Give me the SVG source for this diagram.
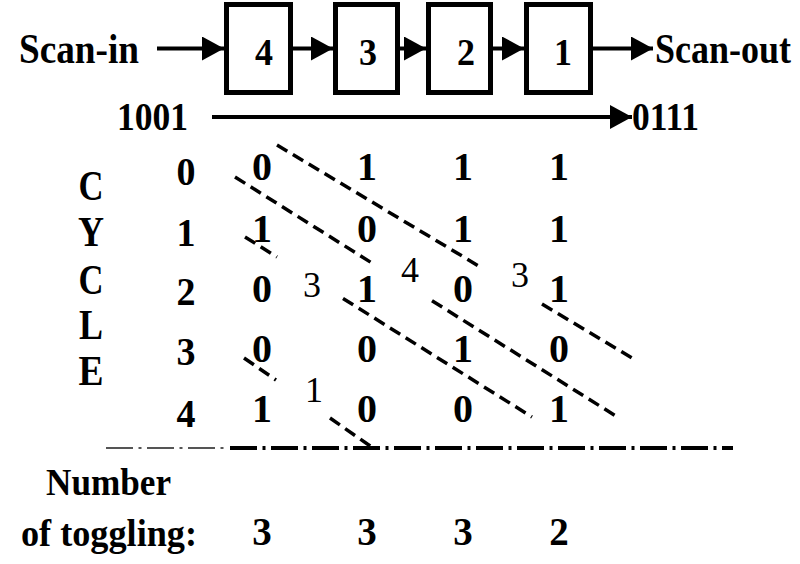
<svg xmlns="http://www.w3.org/2000/svg" width="800" height="564" viewBox="0 0 800 564">
<style>
.b{font-family:"Liberation Serif","Times New Roman",serif;font-weight:bold;fill:#000}
.r{font-family:"Liberation Serif","Times New Roman",serif;font-weight:normal;fill:#000}
.c{text-anchor:middle}
.box{fill:#fff;stroke:#000;stroke-width:5}
.arr{stroke:#000;stroke-width:4;fill:none;marker-end:url(#ah)}
.dash{stroke:#000;stroke-width:3.5;fill:none;stroke-dasharray:12 6.5}
.dd{stroke:#000;stroke-width:4;fill:none;stroke-dasharray:27 5.5 3 5.5}
.ddt{stroke:#555;stroke-width:2;fill:none;stroke-dasharray:27 5.5 3 5.5}
</style>
<defs>
<marker id="ah" markerUnits="userSpaceOnUse" markerWidth="22" markerHeight="24" refX="22" refY="12" orient="auto">
<path d="M0,0 L22,12 L0,24 z" fill="#000"/>
</marker>
</defs>
<rect width="800" height="564" fill="#fff"/>
<g id="connectors">
<line class="arr" x1="157" y1="48.5" x2="224" y2="48.5"/>
<line class="arr" x1="293" y1="48.5" x2="333" y2="48.5"/>
<line class="arr" x1="400" y1="48.5" x2="426" y2="48.5"/>
<line class="arr" x1="493" y1="48.5" x2="524" y2="48.5"/>
<line class="arr" x1="593" y1="48.5" x2="653" y2="48.5"/>
<line class="arr" x1="212" y1="117" x2="632" y2="117"/>
</g>
<g id="node-4"><rect class="box" x="226.5" y="4.5" width="64" height="88"/><text class="b c" x="264" y="65" font-size="38" textLength="18" lengthAdjust="spacingAndGlyphs">4</text></g>
<g id="node-3"><rect class="box" x="335.5" y="4.5" width="62" height="88"/><text class="b c" x="368" y="65" font-size="38" textLength="18" lengthAdjust="spacingAndGlyphs">3</text></g>
<g id="node-2"><rect class="box" x="428.5" y="4.5" width="62" height="88"/><text class="b c" x="466" y="65" font-size="38" textLength="18" lengthAdjust="spacingAndGlyphs">2</text></g>
<g id="node-1"><rect class="box" x="526.5" y="4.5" width="64" height="88"/><text class="b c" x="563" y="65" font-size="38" textLength="18" lengthAdjust="spacingAndGlyphs">1</text></g>
<g id="labels">
<text class="b" x="19" y="63" font-size="42" textLength="120" lengthAdjust="spacingAndGlyphs">Scan-in</text>
<text class="b" transform="translate(655,63) scale(1,1.15)" font-size="36">Scan-out</text>
<text class="b" x="117" y="130" font-size="40" textLength="71" lengthAdjust="spacingAndGlyphs">1001</text>
<text class="b" x="632" y="130" font-size="40" textLength="67" lengthAdjust="spacingAndGlyphs">0111</text>
<g class="b c" font-size="42">
<text x="91" y="200" textLength="25" lengthAdjust="spacingAndGlyphs">C</text>
<text x="91" y="246" textLength="26" lengthAdjust="spacingAndGlyphs">Y</text>
<text x="91" y="294" textLength="25" lengthAdjust="spacingAndGlyphs">C</text>
<text x="91" y="339" textLength="24" lengthAdjust="spacingAndGlyphs">L</text>
<text x="91" y="385" textLength="25" lengthAdjust="spacingAndGlyphs">E</text>
</g>
<g class="b c" font-size="41">
<text x="186" y="185" textLength="19" lengthAdjust="spacingAndGlyphs">0</text>
<text x="186" y="246" textLength="19" lengthAdjust="spacingAndGlyphs">1</text>
<text x="186" y="305" textLength="19" lengthAdjust="spacingAndGlyphs">2</text>
<text x="186" y="365" textLength="19" lengthAdjust="spacingAndGlyphs">3</text>
<text x="186" y="427" textLength="19" lengthAdjust="spacingAndGlyphs">4</text>
</g>
</g>
<g id="bits" class="b c" font-size="40">
<text x="262" y="180">0</text><text x="367" y="180">1</text><text x="463" y="180">1</text><text x="559" y="180">1</text>
<text x="262" y="242">1</text><text x="367" y="242">0</text><text x="463" y="242">1</text><text x="559" y="242">1</text>
<text x="262" y="302">0</text><text x="367" y="302">1</text><text x="463" y="302">0</text><text x="559" y="302">1</text>
<text x="262" y="362">0</text><text x="367" y="362">0</text><text x="463" y="362">1</text><text x="559" y="362">0</text>
<text x="262" y="422">1</text><text x="367" y="422">0</text><text x="463" y="422">0</text><text x="559" y="422">1</text>
</g>
<g id="diagonals">
<path class="dash" d="M277,145 L483,268.6 M542,304 L632,358"/>
<path class="dash" d="M235,177 L373,263.7 M432,300.7 L619,418"/>
<path class="dash" d="M245,237 L277,257 M343,298.4 L532,417"/>
<path class="dash" d="M244,358 L276,380 M330,418 L373,448"/>
</g>
<g id="toggle-counts" class="r c" font-size="36">
<text x="312" y="297">3</text>
<text x="410" y="282">4</text>
<text x="520" y="287">3</text>
<text x="314" y="402">1</text>
</g>
<g id="separator">
<line class="ddt" x1="106" y1="448" x2="226" y2="448"/>
<line class="dd" x1="230" y1="448" x2="733" y2="448"/>
</g>
<g id="totals">
<text class="b" x="46" y="495" font-size="38" textLength="125" lengthAdjust="spacingAndGlyphs">Number</text>
<text class="b" x="21" y="546" font-size="38" textLength="176" lengthAdjust="spacingAndGlyphs">of toggling:</text>
<g class="b c" font-size="39">
<text x="262" y="545">3</text><text x="367" y="545">3</text><text x="463" y="545">3</text><text x="559" y="545">2</text>
</g>
</g>
</svg>
